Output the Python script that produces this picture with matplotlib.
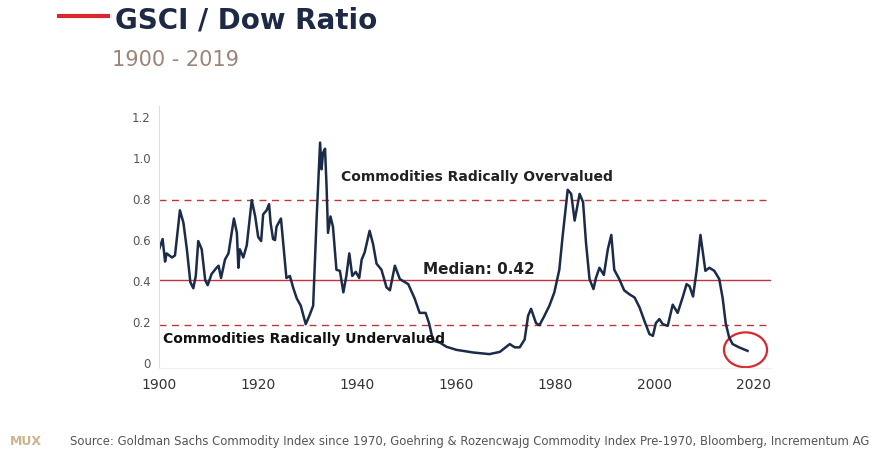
import numpy as np
import matplotlib
matplotlib.use("Agg")
import matplotlib.pyplot as plt
from matplotlib.patches import Ellipse
from matplotlib.lines import Line2D

# GSCI / Dow ratio
years = [1900.0, 1900.7, 1901.2, 1901.5, 1902.6, 1903.2, 1904.2, 1904.9, 1905.6, 1906.3,
         1906.9, 1907.4, 1907.9, 1908.6, 1909.3, 1909.8, 1910.6, 1911.6, 1912.0, 1912.5,
         1913.3, 1914.0, 1915.1, 1915.7, 1916.0, 1916.3, 1917.0, 1917.7, 1918.7, 1919.4,
         1920.0, 1920.6, 1921.0, 1921.7, 1922.2, 1922.5, 1923.0, 1923.4, 1923.7, 1924.6,
         1925.1, 1925.7, 1926.4, 1927.1, 1927.8, 1928.6, 1929.6, 1930.4, 1931.1, 1931.8,
         1932.5, 1932.8, 1933.1, 1933.5, 1933.8, 1934.1, 1934.6, 1935.1, 1935.8, 1936.5,
         1937.2, 1937.8, 1938.4, 1939.0, 1939.7, 1940.4, 1940.9, 1941.5, 1942.5, 1943.2,
         1943.9, 1944.9, 1945.9, 1946.6, 1947.6, 1948.6, 1949.6, 1950.3, 1951.6, 1952.6,
         1953.8, 1954.5, 1955.3, 1956.7, 1958.0, 1960.0, 1963.4, 1966.7, 1968.8, 1970.8,
         1971.8, 1972.8, 1973.8, 1974.5, 1975.1, 1976.1, 1976.8, 1977.8, 1978.8, 1979.8,
         1980.8, 1981.5, 1982.5, 1983.2, 1983.9, 1984.9, 1985.6, 1986.2, 1986.9, 1987.7,
         1988.2, 1988.9, 1989.8, 1990.6, 1991.3, 1991.9, 1992.9, 1993.9, 1995.0, 1996.0,
         1997.0, 1998.0, 1999.0, 1999.7, 2000.3, 2001.0, 2001.7, 2002.7, 2003.7, 2004.7,
         2005.7, 2006.5, 2007.1, 2007.8, 2008.5, 2009.3, 2010.3, 2011.1, 2012.1, 2013.1,
         2013.8, 2014.4, 2015.1, 2015.8, 2017.1, 2018.8]
ratio = [0.55, 0.60, 0.49, 0.53, 0.51, 0.52, 0.74, 0.68, 0.55, 0.39,
         0.36, 0.42, 0.59, 0.55, 0.40, 0.375, 0.43, 0.46, 0.47, 0.41,
         0.50, 0.53, 0.70, 0.63, 0.46, 0.55, 0.51, 0.57, 0.79, 0.71,
         0.61, 0.59, 0.72, 0.74, 0.77, 0.68, 0.60, 0.595, 0.66, 0.70,
         0.57, 0.41, 0.42, 0.36, 0.31, 0.275, 0.185, 0.23, 0.275, 0.70,
         1.07, 0.94, 1.02, 1.04, 0.86, 0.63, 0.71, 0.66, 0.45, 0.445,
         0.34, 0.42, 0.53, 0.42, 0.44, 0.41, 0.50, 0.535, 0.64, 0.575,
         0.48, 0.45, 0.365, 0.35, 0.47, 0.405, 0.39, 0.38, 0.31, 0.24,
         0.24, 0.19, 0.105, 0.095, 0.075, 0.06, 0.047, 0.039, 0.05, 0.088,
         0.072, 0.072, 0.11, 0.226, 0.26, 0.19, 0.18, 0.226, 0.275, 0.34,
         0.45, 0.62, 0.84, 0.82, 0.69, 0.82, 0.78, 0.58, 0.405, 0.356,
         0.41, 0.46, 0.425, 0.55, 0.62, 0.45, 0.405, 0.35, 0.33, 0.315,
         0.267, 0.20, 0.137, 0.128, 0.19, 0.21, 0.185, 0.177, 0.28, 0.24,
         0.315, 0.38, 0.37, 0.32, 0.44, 0.62, 0.445, 0.46, 0.445, 0.405,
         0.31, 0.19, 0.12, 0.088, 0.072, 0.055]

over_level = 0.79
median_level = 0.40
under_level = 0.18
xticks = [1900, 1920, 1940, 1960, 1980, 2000, 2020]
yticks = [0, 0.2, 0.4, 0.6, 0.8, 1.0, 1.2]
ytick_labels = ["0", "0.2", "0.4", "0.6", "0.8", "1.0", "1.2"]

navy = "#1b2b48"
red = "#c0343e"

fig = plt.figure(figsize=(8.89, 4.52), dpi=100)
ax = fig.add_axes([0.179, 0.183, 0.688, 0.581])

ax.axhline(over_level, color=red, lw=1.0, ls=(0, (5, 4)))
ax.axhline(median_level, color=red, lw=1.0)
ax.axhline(under_level, color=red, lw=1.0, ls=(0, (5, 4)))

ax.plot(years, ratio, color=navy, lw=1.8, solid_joinstyle="round")

# red circle round the latest reading
ax.add_patch(Ellipse((years[-1] - 0.4, ratio[-1] + 0.005), 8.7, 0.17,
                     fill=False, ec="#d8282e", lw=1.6))

ax.text(1936.7, 0.905, "Commodities Radically Overvalued", fontsize=10,
        fontweight="semibold", color="#222222", va="center")
ax.text(1953.2, 0.455, "Median: 0.42", fontsize=11,
        fontweight="semibold", color="#222222", va="center")
ax.text(1900.8, 0.12, "Commodities Radically Undervalued", fontsize=10,
        fontweight="bold", color="#111111", va="center")

ax.set_xlim(1900, 2023.5)
ax.set_ylim(-0.03, 1.25)
ax.set_xticks(xticks)
ax.set_xticklabels([str(t) for t in xticks], fontsize=10, color="#333333")
ax.set_yticks(yticks)
ax.set_yticklabels(ytick_labels, fontsize=8.5, color="#555555")
ax.tick_params(length=0, pad=6)
for s in ["top", "right"]:
    ax.spines[s].set_visible(False)
ax.spines["left"].set_color("#dddddd")
ax.spines["bottom"].set_color("#eeeeee")

# header
fig.add_artist(Line2D([0.066, 0.121], [0.963, 0.963], color="#d9272e", lw=3))
fig.text(0.129, 0.954, "GSCI / Dow Ratio", fontsize=20, fontweight="heavy",
         color="#1e2a45", va="center")
fig.text(0.126, 0.868, "1900 - 2019", fontsize=15, color="#9c8578", va="center")

# footer
fig.text(0.011, 0.024, "MUX", fontsize=9, fontweight="bold", color="#cbb58e", va="center")
fig.text(0.079, 0.024, "Source: Goldman Sachs Commodity Index since 1970, Goehring & Rozencwajg "
         "Commodity Index Pre-1970, Bloomberg, Incrementum AG",
         fontsize=8.4, color="#555555", va="center")

fig.savefig("out.png", dpi=100)
